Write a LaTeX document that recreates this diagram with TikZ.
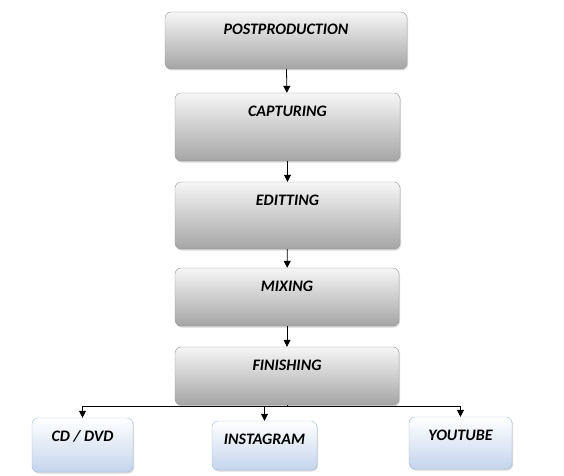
\documentclass[tikz,border=0pt]{standalone}
\usepackage{fontspec}
\setmainfont{Carlito}
\usepackage{tikz}
\usetikzlibrary{arrows.meta,shadows}
\definecolor{stageline}{RGB}{150,150,150}
\definecolor{stagetop}{RGB}{246,246,246}
\definecolor{stagebot}{RGB}{165,165,165}
\definecolor{outline}{RGB}{160,186,220}
\definecolor{outbot}{RGB}{196,212,236}

\begin{document}
\begin{tikzpicture}[x=1pt,y=1pt,>={Triangle[length=7pt,width=7pt]},
  box/.style={rounded corners=6pt,inner xsep=2pt,inner ysep=4pt,text height=19pt,align=center,font=\fontsize{16}{18}\selectfont\bfseries\itshape,drop shadow={shadow xshift=1pt,shadow yshift=-1.5pt,opacity=0.3}},
  stage/.style={box,draw=stageline,top color=stagetop,bottom color=stagebot},
  outlet/.style={box,draw=outline,top color=white,bottom color=outbot},
  link/.style={->,line width=0.8pt}]
  \useasboundingbox (0,0) rectangle (564,475);
  \node[stage,minimum width=242pt,text depth=30pt] (post) at (286,434.5) {POSTPRODUCTION};
  \node[stage,minimum width=225pt,text depth=41pt] (capt) at (287.5,348) {CAPTURING};
  \node[stage,minimum width=225pt,text depth=40pt] (edit) at (287.5,259.5) {EDITTING};
  \node[stage,minimum width=224pt,text depth=31pt] (mix) at (287,178) {MIXING};
  \node[stage,minimum width=224pt,text depth=31pt] (fin) at (287,99) {FINISHING};
  \node[outlet,minimum width=101pt,text depth=27pt] (cd) at (82.5,30) {CD / DVD};
  \node[outlet,minimum width=105pt,text depth=22pt] (insta) at (264.5,29.5) {INSTAGRAM};
  \node[outlet,minimum width=103pt,text depth=25pt] (yt) at (460.5,32) {YOUTUBE};
  \draw[link] (post) -- (capt);
  \draw[link] (capt) -- (edit);
  \draw[link] (edit) -- (mix);
  \draw[link] (mix) -- (fin);
  \draw[line width=0.8pt] (fin.south) -- ++(0,-1) coordinate (split);
  \draw[line width=0.8pt] (split -| cd.north) -- (split -| yt.north);
  \draw[link] (split -| cd.north) -- (cd.north);
  \draw[link] (split -| insta.north) -- (insta.north);
  \draw[link] (split -| yt.north) -- (yt.north);
\end{tikzpicture}
\end{document}
